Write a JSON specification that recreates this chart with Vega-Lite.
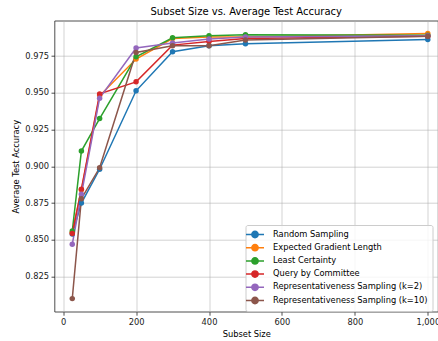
{
  "$schema": "https://vega.github.io/schema/vega-lite/v6.json",
  "autosize": {"type": "none"},
  "padding": {"left": 54.5, "top": 20.7, "right": 0, "bottom": 29.3},
  "width": 383.5,
  "height": 291,
  "title": {"text": "Subset Size vs. Average Test Accuracy", "fontSize": 10, "font": "DejaVu Sans", "fontWeight": "normal", "color": "#000000", "offset": 4},
  "config": {
    "view": {"stroke": "#222222", "strokeWidth": 0.8},
    "axis": {
      "labelFont": "DejaVu Sans", "labelFontSize": 8.3, "labelColor": "#222222",
      "titleFont": "DejaVu Sans", "titleFontSize": 8.3, "titleFontWeight": "normal", "titleColor": "#000000",
      "gridColor": "#b0b0b0", "gridOpacity": 0.7, "gridWidth": 0.8,
      "domain": false, "tickColor": "#222222", "tickSize": 3.5, "tickWidth": 0.8, "labelPadding": 2.5
    }
  },
  "data": {"values": [
    {"size": 25, "acc": 0.854, "method": "Random Sampling"},
    {"size": 50, "acc": 0.875, "method": "Random Sampling"},
    {"size": 100, "acc": 0.898, "method": "Random Sampling"},
    {"size": 200, "acc": 0.9514, "method": "Random Sampling"},
    {"size": 300, "acc": 0.978, "method": "Random Sampling"},
    {"size": 400, "acc": 0.982, "method": "Random Sampling"},
    {"size": 500, "acc": 0.9834, "method": "Random Sampling"},
    {"size": 1000, "acc": 0.9863, "method": "Random Sampling"},
    {"size": 25, "acc": 0.855, "method": "Expected Gradient Length"},
    {"size": 50, "acc": 0.884, "method": "Expected Gradient Length"},
    {"size": 100, "acc": 0.948, "method": "Expected Gradient Length"},
    {"size": 200, "acc": 0.973, "method": "Expected Gradient Length"},
    {"size": 300, "acc": 0.987, "method": "Expected Gradient Length"},
    {"size": 400, "acc": 0.988, "method": "Expected Gradient Length"},
    {"size": 500, "acc": 0.988, "method": "Expected Gradient Length"},
    {"size": 1000, "acc": 0.9904, "method": "Expected Gradient Length"},
    {"size": 25, "acc": 0.856, "method": "Least Certainty"},
    {"size": 50, "acc": 0.9104, "method": "Least Certainty"},
    {"size": 100, "acc": 0.9325, "method": "Least Certainty"},
    {"size": 200, "acc": 0.9745, "method": "Least Certainty"},
    {"size": 300, "acc": 0.9875, "method": "Least Certainty"},
    {"size": 400, "acc": 0.9888, "method": "Least Certainty"},
    {"size": 500, "acc": 0.9895, "method": "Least Certainty"},
    {"size": 1000, "acc": 0.9892, "method": "Least Certainty"},
    {"size": 25, "acc": 0.8543, "method": "Query by Committee"},
    {"size": 50, "acc": 0.8844, "method": "Query by Committee"},
    {"size": 100, "acc": 0.9493, "method": "Query by Committee"},
    {"size": 200, "acc": 0.9575, "method": "Query by Committee"},
    {"size": 300, "acc": 0.9825, "method": "Query by Committee"},
    {"size": 400, "acc": 0.985, "method": "Query by Committee"},
    {"size": 500, "acc": 0.987, "method": "Query by Committee"},
    {"size": 1000, "acc": 0.9885, "method": "Query by Committee"},
    {"size": 25, "acc": 0.847, "method": "Representativeness Sampling (k=2)"},
    {"size": 50, "acc": 0.881, "method": "Representativeness Sampling (k=2)"},
    {"size": 100, "acc": 0.9464, "method": "Representativeness Sampling (k=2)"},
    {"size": 200, "acc": 0.9805, "method": "Representativeness Sampling (k=2)"},
    {"size": 300, "acc": 0.984, "method": "Representativeness Sampling (k=2)"},
    {"size": 400, "acc": 0.9866, "method": "Representativeness Sampling (k=2)"},
    {"size": 500, "acc": 0.988, "method": "Representativeness Sampling (k=2)"},
    {"size": 1000, "acc": 0.9888, "method": "Representativeness Sampling (k=2)"},
    {"size": 25, "acc": 0.810, "method": "Representativeness Sampling (k=10)"},
    {"size": 50, "acc": 0.878, "method": "Representativeness Sampling (k=10)"},
    {"size": 100, "acc": 0.899, "method": "Representativeness Sampling (k=10)"},
    {"size": 200, "acc": 0.9775, "method": "Representativeness Sampling (k=10)"},
    {"size": 300, "acc": 0.982, "method": "Representativeness Sampling (k=10)"},
    {"size": 400, "acc": 0.982, "method": "Representativeness Sampling (k=10)"},
    {"size": 500, "acc": 0.986, "method": "Representativeness Sampling (k=10)"},
    {"size": 1000, "acc": 0.9885, "method": "Representativeness Sampling (k=10)"}
  ]},
  "encoding": {
    "x": {"field": "size", "type": "quantitative", "title": "Subset Size",
      "scale": {"domain": [-23.75, 1028], "nice": false, "zero": false},
      "axis": {"values": [0, 200, 400, 600, 800, 1000], "titlePadding": 3}},
    "y": {"field": "acc", "type": "quantitative", "title": "Average Test Accuracy",
      "scale": {"domain": [0.8011, 0.9991], "nice": false, "zero": false},
      "axis": {"values": [0.825, 0.85, 0.875, 0.9, 0.925, 0.95, 0.975], "format": ".3f", "titlePadding": 4}},
    "color": {"field": "method", "type": "nominal",
      "scale": {
        "domain": ["Random Sampling", "Expected Gradient Length", "Least Certainty", "Query by Committee", "Representativeness Sampling (k=2)", "Representativeness Sampling (k=10)"],
        "range": ["#1f77b4", "#ff7f0e", "#2ca02c", "#d62728", "#9467bd", "#8c564b"]
      },
      "legend": {
        "orient": "none", "legendX": 191, "legendY": 204.3, "title": null,
        "symbolType": "M-2,0H2M-0.7,0A0.7,0.7 0 1 1 0.7,0A0.7,0.7 0 1 1 -0.7,0Z",
        "symbolSize": 81, "symbolStrokeWidth": 1.5,
        "labelFont": "DejaVu Sans", "labelFontSize": 8.3, "labelColor": "#000000", "labelOffset": 12.5,
        "rowPadding": 0.2, "padding": 4,
        "strokeColor": "#cccccc", "fillColor": "rgba(255,255,255,0.8)", "cornerRadius": 2,
        "labelLimit": 300,
        "encode": {"symbols": {"update": {"fill": {"scale": "color", "field": "value"}, "stroke": {"scale": "color", "field": "value"}, "opacity": {"value": 1}}}}
      }
    }
  },
  "layer": [
    {"mark": {"type": "line", "strokeWidth": 1.5}},
    {"mark": {"type": "point", "filled": true, "size": 30, "opacity": 1}}
  ]
}
